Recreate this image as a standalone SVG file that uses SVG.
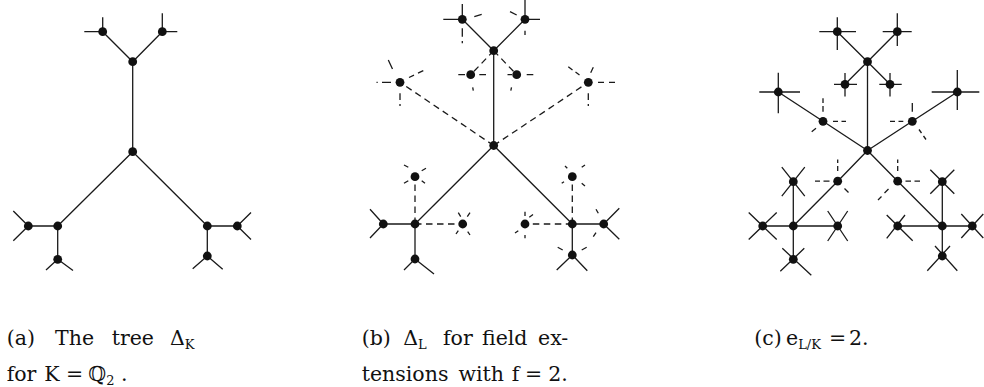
<svg xmlns="http://www.w3.org/2000/svg" xmlns:xlink="http://www.w3.org/1999/xlink" width="984" height="387" viewBox="0 0 984 387">
<style>
.e{stroke:#1a1a1a;stroke-width:1.3;fill:none;stroke-linecap:butt}
.d{stroke:#1a1a1a;stroke-width:1.3;fill:none;stroke-dasharray:6.5 4.5}
.s{stroke:#1a1a1a;stroke-width:1.3;fill:none}
.n{fill:#111}
.t{font-family:"DejaVu Serif","Liberation Serif",serif;font-size:20.5px;fill:#111}
.sub{font-size:13px}
</style>
<defs><circle id="dot" class="n" r="4.4"/></defs>
<rect width="984" height="387" fill="#fff"/>

<!-- ===== Panel (a) ===== -->
<g id="a-connectors">
<path class="e" d="M132.7,151.7V61.7M132.7,61.7L102.7,31.7M132.7,61.7L162.3,31.7M132.7,151.7L57.7,226M132.7,151.7L207.3,226M57.7,226H28.3M57.7,226V259.3M207.3,226H237.3M207.3,226V256"/>
</g>
<g id="a-center"><use href="#dot" x="132.7" y="151.7"/></g>
<g id="a-top"><use href="#dot" x="132.7" y="61.7"/></g>
<g id="a-tl"><path class="s" d="M102.7,31.7H84.3M102.7,31.7V17.3"/><use href="#dot" x="102.7" y="31.7"/></g>
<g id="a-tr"><path class="s" d="M162.3,31.7V13.3M162.3,31.7H177.3"/><use href="#dot" x="162.3" y="31.7"/></g>
<g id="a-bl"><use href="#dot" x="57.7" y="226"/></g>
<g id="a-bl-l"><path class="s" d="M28.3,226L13.3,211M28.3,226L13.3,240.7"/><use href="#dot" x="28.3" y="226"/></g>
<g id="a-bl-b"><path class="s" d="M57.7,259.3L46,270M57.7,259.3L73,270.5"/><use href="#dot" x="57.7" y="259.3"/></g>
<g id="a-br"><use href="#dot" x="207.3" y="226"/></g>
<g id="a-br-r"><path class="s" d="M237.3,226L251,212.5M237.3,226L251,239.5"/><use href="#dot" x="237.3" y="226"/></g>
<g id="a-br-b"><path class="s" d="M207.3,256L192.7,268.7M207.3,256L222.7,269.3"/><use href="#dot" x="207.3" y="256"/></g>

<!-- ===== Panel (b) ===== -->
<g id="b-connectors">
<path class="e" d="M493.7,145.5V50.7M493.7,50.7L462.3,19.3M493.7,50.7L525,19.3M493.7,145.5L415,224M493.7,145.5L572.3,224M415,224H383.3M415,224V259M572.3,224H603.7M572.3,224V255"/>
<path class="d" d="M493.7,50.7L470.7,74.7M493.7,50.7L516.7,74.7M493.7,145.5L400,82.3M493.7,145.5L588.3,82.3M415,224V176.7M415,224H462.7M572.3,224V176.7M572.3,224H525"/>
</g>
<g id="b-center"><use href="#dot" x="493.7" y="145.5"/></g>
<g id="b-top"><use href="#dot" x="493.7" y="50.7"/></g>
<g id="b-tl"><path class="s" d="M462.3,19.3H443.3M462.3,19.3V4M474.3,16.7L481.7,14.3M462.3,28.3V36.7M462.3,41V43.3"/><use href="#dot" x="462.3" y="19.3"/></g>
<g id="b-tr"><path class="s" d="M525,19.3V0M525,19.3H540M510,11.7L516.7,15M525,30.7V35"/><use href="#dot" x="525" y="19.3"/></g>
<g id="b-il"><path class="s" d="M458.3,74.7H465M479.3,74.7H486M472.7,87.3L473.3,90.7"/><use href="#dot" x="470.7" y="74.7"/></g>
<g id="b-ir"><path class="s" d="M507.5,74.7H512M526.7,74.7H533.3M511.5,87.3L510.8,90.7"/><use href="#dot" x="516.7" y="74.7"/></g>
<g id="b-fl"><path class="s" d="M388.3,60L392.5,69M409,77.5L414,75.2M418,73.2L423.3,70.7M376.5,82.3H377.7M382,82.3H391M400,93.3V100M400,104V106"/><use href="#dot" x="400" y="82.3"/></g>
<g id="b-fr"><path class="s" d="M593.3,67.3L590.7,72.7M568.3,66.7L572.5,70M575.5,72L579.5,75M598,82.3H604M609,82.3H615M588.3,93.3V100M588.3,104V106"/><use href="#dot" x="588.3" y="82.3"/></g>
<g id="b-bl"><use href="#dot" x="415" y="224"/></g>
<g id="b-bl-l"><path class="s" d="M383.3,224L370,209.3M383.3,224L370,238"/><use href="#dot" x="383.3" y="224"/></g>
<g id="b-bl-b"><path class="s" d="M415,259L404,270M415,259L434,274"/><use href="#dot" x="415" y="259"/></g>
<g id="b-bl-u"><path class="s" d="M404,165L408.3,167.3M421.7,170.7L426,168.3M404,183.3L408.3,180.7M421.7,180.7L425,183.3"/><use href="#dot" x="415" y="176.7"/></g>
<g id="b-bl-r"><path class="s" d="M458.3,212.7L460.7,216.7M467.3,216.7L470,212.7M456,234L458.3,230.7M467.7,231.7L470,235"/><use href="#dot" x="462.7" y="224"/></g>
<g id="b-br"><use href="#dot" x="572.3" y="224"/></g>
<g id="b-br-r"><path class="s" d="M603.7,224L619.3,208.3M603.7,224L619.3,239.3M596,209.3L598.3,213.3M593.3,236.7L596,232.7"/><use href="#dot" x="603.7" y="224"/></g>
<g id="b-br-b"><path class="s" d="M572.3,255L556.7,270M572.3,255L587.3,270.7M557.7,247.3L562.7,250M581.7,250L586.7,247.3"/><use href="#dot" x="572.3" y="255"/></g>
<g id="b-br-u"><path class="s" d="M565,166L567.3,168.3M581.7,167.3L585,165M561.7,183.3L564,181.7M581.7,183.3L585,186"/><use href="#dot" x="572.3" y="176.7"/></g>
<g id="b-br-l"><path class="s" d="M525,211.7V216M529.3,217.3L533,214.5M515,233L518.3,230.7M525,235V238.3"/><use href="#dot" x="525" y="224"/></g>

<!-- ===== Panel (c) ===== -->
<g id="c-connectors">
<path class="e" d="M867.5,150.5V61.7M867.5,61.7L837.3,31.7M867.5,61.7L897.3,31.7M867.5,61.7L845,84.3M867.5,61.7L890,84.3M867.5,150.5L823,121.3L778.3,92M867.5,150.5L912.3,121.3L957.3,92M867.5,150.5L837.7,181.2L793.3,226M867.5,150.5L897.7,181.2L942.3,226M793.3,226V181.7M793.3,226H762.7M793.3,226H837.7M793.3,226V259.3M942.3,226V181.7M942.3,226H897.7M942.3,226H972.3M942.3,226V256"/>
</g>
<g id="c-center"><use href="#dot" x="867.5" y="150.5"/></g>
<g id="c-top"><use href="#dot" x="867.5" y="61.7"/></g>
<g id="c-tl"><path class="s" d="M819.3,31.7H856M837.3,17.3V50"/><use href="#dot" x="837.3" y="31.7"/></g>
<g id="c-tr"><path class="s" d="M882.7,31.7H911.7M897.3,13.3V46"/><use href="#dot" x="897.3" y="31.7"/></g>
<g id="c-il"><path class="s" d="M834,84.3H857M845,73V96.5"/><use href="#dot" x="845" y="84.3"/></g>
<g id="c-ir"><path class="s" d="M879.3,84.3H901.7M890,73V96.5"/><use href="#dot" x="890" y="84.3"/></g>
<g id="c-fl"><path class="s" d="M759.3,92H800M778.3,72.7V113.3"/><use href="#dot" x="778.3" y="92"/></g>
<g id="c-fr"><path class="s" d="M931.7,92H979.3M957.3,70V110"/><use href="#dot" x="957.3" y="92"/></g>
<g id="c-ml"><path class="s" d="M823,98.3V103M823,106V111.7M833,121.3H838M841.5,121.3H846M811.7,131.7L816,128.3"/><use href="#dot" x="823" y="121.3"/></g>
<g id="c-mr"><path class="s" d="M912.3,103V111.7M890,121.3H895M898.5,121.3H903.3M919,129.5L921.5,133M923.5,136L926,139.5"/><use href="#dot" x="912.3" y="121.3"/></g>
<g id="c-ll"><path class="s" d="M837.7,159.5V163M837.7,166V171M815,181.2H820M823.5,181.2H829.5M844.5,188.5L848.5,192.5"/><use href="#dot" x="837.7" y="181.2"/></g>
<g id="c-lr"><path class="s" d="M897.7,159.5V163M897.7,166V171M905.5,181.2H911M914.5,181.2H920M878,200L881.5,196.5M884.5,193L888.5,189"/><use href="#dot" x="897.7" y="181.2"/></g>
<g id="c-bl"><use href="#dot" x="793.3" y="226"/></g>
<g id="c-bl-u"><path class="s" d="M781.8,167.2L804.8,196.2M804.8,167.2L781.8,196.2"/><use href="#dot" x="793.3" y="181.7"/></g>
<g id="c-bl-l"><path class="s" d="M748.7,212.5L776.7,239.5M776.7,212.5L748.7,239.5"/><use href="#dot" x="762.7" y="226"/></g>
<g id="c-bl-r"><path class="s" d="M827.7,211L847.7,241M847.7,211L827.7,241"/><use href="#dot" x="837.7" y="226"/></g>
<g id="c-bl-d"><path class="s" d="M782.3,248.3L811.3,275.3M804.3,248.3L780.3,271.3"/><use href="#dot" x="793.3" y="259.3"/></g>
<g id="c-br"><use href="#dot" x="942.3" y="226"/></g>
<g id="c-br-u"><path class="s" d="M930.3,169.7L954.3,193.7M954.3,169.7L930.3,193.7"/><use href="#dot" x="942.3" y="181.7"/></g>
<g id="c-br-l"><path class="s" d="M886.7,215L912.7,240.7M905,215L886.7,238.3"/><use href="#dot" x="897.7" y="226"/></g>
<g id="c-br-r"><path class="s" d="M961.3,214L983.3,238M983.3,214L961.3,238"/><use href="#dot" x="972.3" y="226"/></g>
<g id="c-br-d"><path class="s" d="M935,246L957.3,270.7M950,246L927.3,270.7"/><use href="#dot" x="942.3" y="256"/></g>

<!-- ===== Captions ===== -->
<g id="captions" class="t">
<text x="6.7" y="344.5">(a)</text>
<text x="55" y="344.5">The</text>
<text x="111.7" y="344.5">tree</text>
<text x="170" y="344.5">Δ<tspan class="sub" dy="4">K</tspan></text>
<text x="6.7" y="381">for</text>
<text x="44.3" y="381">K</text>
<text x="66" y="381">=</text>
<text x="88.3" y="381">ℚ<tspan class="sub" dy="4">2</tspan></text>
<text x="121" y="381">.</text>

<text x="361.7" y="344.5">(b)</text>
<text x="403.3" y="344.5">Δ<tspan class="sub" dy="4">L</tspan></text>
<text x="443" y="344.5">for</text>
<text x="482" y="344.5">field</text>
<text x="538" y="344.5">ex-</text>
<text x="361.7" y="381">tensions</text>
<text x="458.5" y="381">with</text>
<text x="511.7" y="381">f</text>
<text x="525" y="381">=</text>
<text x="548.3" y="381">2.</text>

<text x="754.3" y="344.5">(c)</text>
<text x="786" y="344.5">e<tspan class="sub" dy="4">L/K</tspan></text>
<text x="829" y="344.5">=</text>
<text x="849" y="344.5">2.</text>
</g>
</svg>
